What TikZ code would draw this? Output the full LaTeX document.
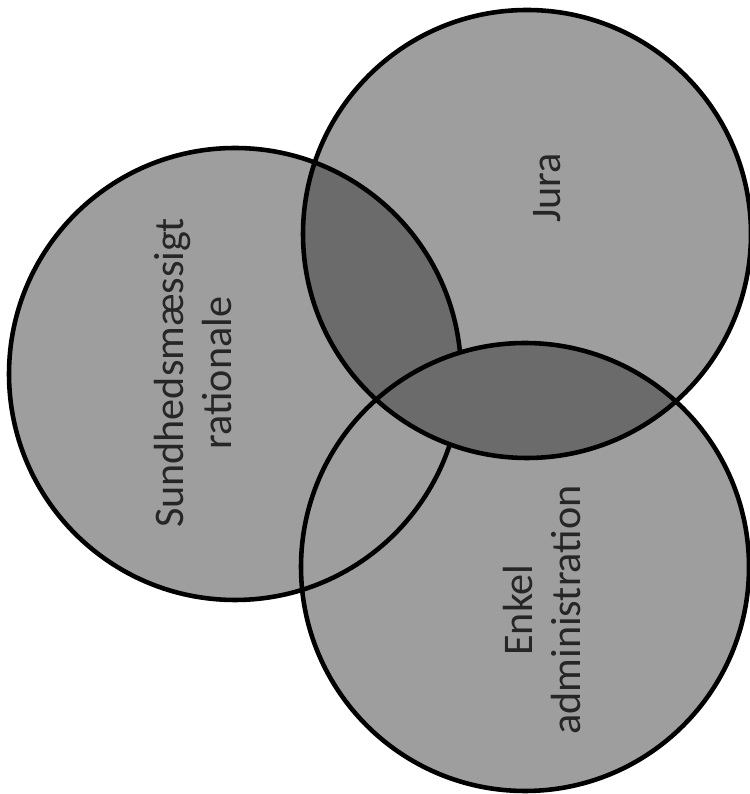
\documentclass[tikz,border=0pt]{standalone}
\usepackage{fontspec}
\setmainfont{Carlito}
\definecolor{vennlys}{gray}{0.62}
\definecolor{venmork}{gray}{0.42}
\begin{document}
\begin{tikzpicture}[
	rim/.style={draw=black, line width=1.3pt},
	tekst/.style={rotate=90, align=center, text=black!85, font=\fontsize{12}{13.4}\selectfont}
]
	\useasboundingbox (0,0) rectangle (7.49,7.94);
	\coordinate (jura) at (5.27,5.60);
	\coordinate (sund) at (2.35,4.20);
	\coordinate (enkel) at (5.25,2.27);

	% circles
	\fill[vennlys] (sund) circle (2.26);
	\fill[vennlys] (jura) circle (2.24);
	\fill[vennlys] (enkel) circle (2.24);

	% overlaps with Jura
	\begin{scope}
		\clip (jura) circle (2.24);
		\fill[venmork] (sund) circle (2.26);
		\fill[venmork] (enkel) circle (2.24);
	\end{scope}
	\draw[rim] (sund) circle (2.26);
	\begin{scope}
		\clip (jura) circle (2.24);
		\clip (enkel) circle (2.24);
		\fill[venmork] (jura) circle (2.24);
	\end{scope}
	\draw[rim] (jura) circle (2.24);
	\draw[rim] (enkel) circle (2.24);

	\node[tekst] (sundtxt) at (1.93,4.21) {Sundhedsmæssigt\\rationale};
	\node[tekst] (juratxt) at (5.47,6.06) {Jura};
	\node[tekst] (enkeltxt) at (5.42,1.84) {Enkel\\administration};
\end{tikzpicture}
\end{document}
